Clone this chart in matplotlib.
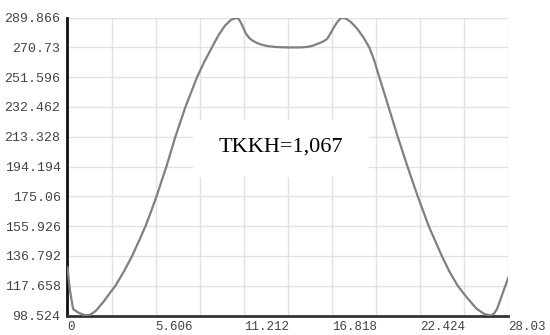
import matplotlib
matplotlib.use("Agg")
import matplotlib.pyplot as plt
from matplotlib.patches import Rectangle
import numpy as np

# 曲線のデータ
x_vals = [0, 0.15, 0.36, 0.7, 1.1, 1.45, 1.8, 2.3, 2.73, 3.05, 3.6, 4.11, 4.55, 4.96,
          5.3, 5.66, 6.29, 6.86, 7.5, 8.24, 8.7, 9.2, 9.6, 10.0, 10.4,
          10.79, 10.95, 11.1, 11.21, 11.35, 11.53, 11.75, 12.0, 12.3, 12.7, 13.2,
          13.96, 14.81, 15.3, 15.6, 15.87, 16.1, 16.3, 16.51, 16.65, 16.82, 17.0,
          17.14, 17.3, 17.46, 17.7, 17.99, 18.4, 18.83, 19.2, 19.5, 19.8, 20.4,
          21.0, 21.62, 22.27, 22.97, 23.8, 24.3, 24.81, 25.4, 26.0, 26.5, 26.9,
          27.1, 27.31, 27.7, 28.03]
y_vals = [129.5, 115, 102.6, 100.3, 98.7, 99.0, 101.5, 107.5, 113.4, 117.66, 127,
          136.79, 146.5, 155.93, 165, 175.06, 194.19, 213.33, 232.46, 251.6, 261.5,
          271, 278.5, 284.5, 288.5, 289.8, 288, 285, 282.6, 279.5, 277.1,
          275.2, 273.8, 272.6, 271.6, 271, 270.7, 270.7, 271.1, 271.8, 272.9, 273.8,
          274.8, 276.1, 278.5, 281.5, 284.5, 286.8, 288.7, 289.8, 289.2, 287.3, 283,
          277, 270.5, 262.5, 252.5, 233, 213.33, 194.19, 175.06, 155.93, 136.79,
          126.5, 117.66, 110, 103, 99.5, 98.6, 99.5, 102.6, 113.6, 123]

# 目盛
x_ticks = [0, 5.606, 11.212, 16.818, 22.424, 28.03]
y_ticks = [98.524, 117.658, 136.792, 155.926, 175.06, 194.194, 213.328,
           232.462, 251.596, 270.73, 289.866]
label_text = "TKKH=1,067"


def main():
    fig = plt.figure(figsize=(5.5, 3.35), dpi=100)
    ax = fig.add_axes([0.1227, 0.0582, 0.8015, 0.8893])

    ax.plot(x_vals, y_vals, color="#808080", lw=1.6, zorder=3,
            solid_joinstyle="round", solid_capstyle="round")

    ax.set_xlim(x_ticks[0], x_ticks[-1])
    ax.set_ylim(y_ticks[0], y_ticks[-1])

    # グリッド (x は半目盛ごと)
    ax.set_xticks(x_ticks)
    ax.set_xticks(np.arange(1, 10, 2) * 2.803, minor=True)
    ax.set_yticks(y_ticks)
    ax.set_yticklabels([("%.3f" % v).rstrip("0") for v in y_ticks])
    ax.set_xticklabels([("%.3f" % v).rstrip("0").rstrip(".") for v in x_ticks])
    ax.grid(which="both", color="#e2e2e2", lw=1.0)
    ax.set_axisbelow(True)

    ax.tick_params(which="both", length=0)
    ax.tick_params(axis="y", pad=5, labelsize=9.5, labelcolor="#444444")
    ax.tick_params(axis="x", pad=4, labelsize=9, labelcolor="#444444")
    for lab in ax.get_xticklabels() + ax.get_yticklabels():
        lab.set_family("Liberation Mono")
    for lab in ax.get_xticklabels():
        lab.set_horizontalalignment("left")

    for side in ["top", "right"]:
        ax.spines[side].set_visible(False)
    ax.spines["left"].set_color("#111111")
    ax.spines["left"].set_linewidth(2)
    ax.spines["bottom"].set_color("#333333")
    ax.spines["bottom"].set_linewidth(2)

    # ラベルの白い箱
    ax.add_patch(Rectangle((0.2847, 0.465), 0.3993, 0.191, transform=ax.transAxes,
                           facecolor="white", edgecolor="none", zorder=1.5))
    ax.text(0.4843, 0.565, label_text, transform=ax.transAxes, ha="center",
            va="center", fontsize=16, family="Liberation Serif", color="black",
            zorder=4)

    fig.savefig("out.png", dpi=100)


if __name__ == "__main__":
    main()
